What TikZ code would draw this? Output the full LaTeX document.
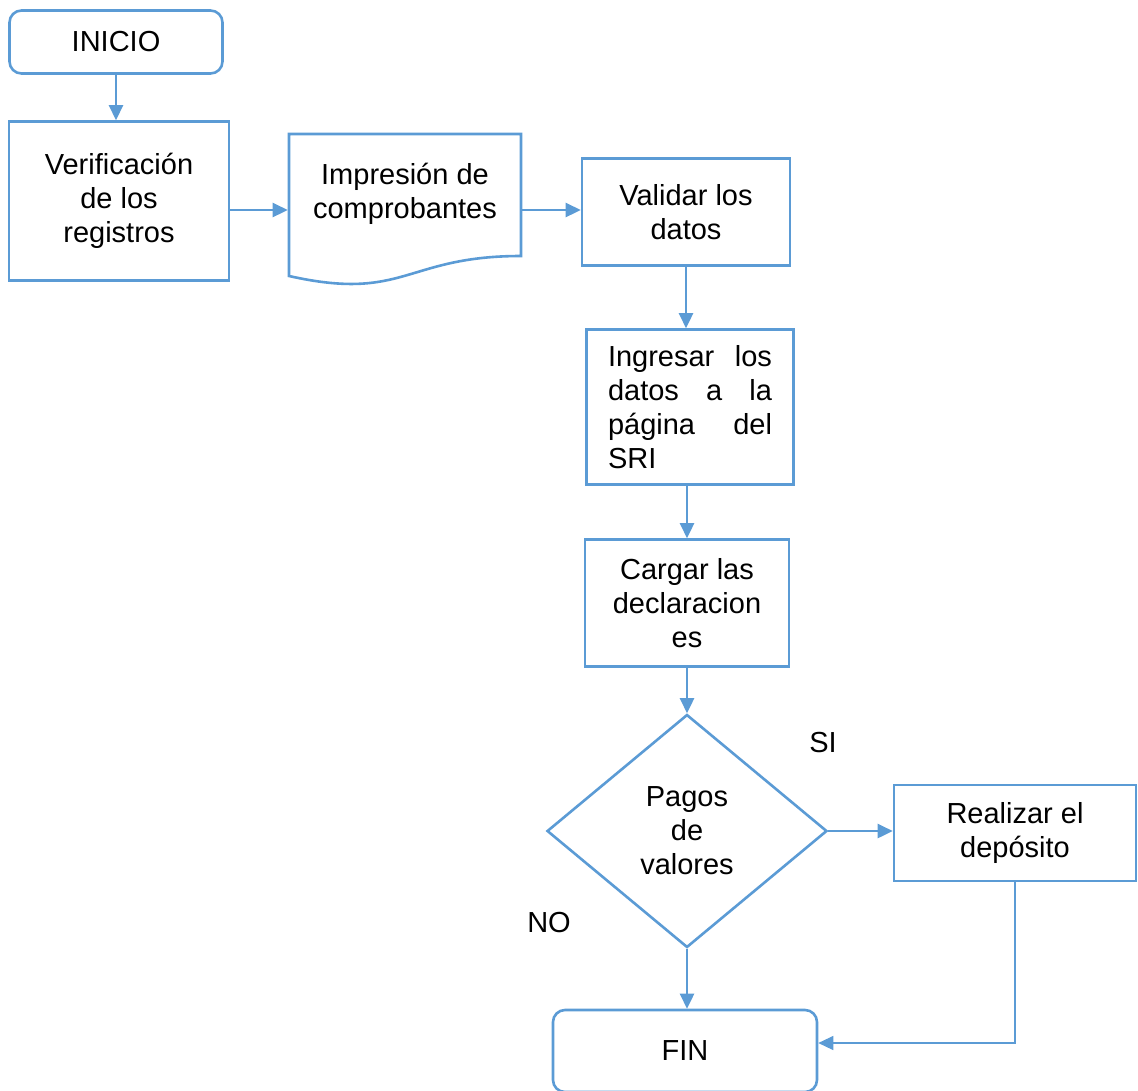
\documentclass[tikz,border=0pt]{standalone}
\usepackage{fontspec}
\setmainfont{Liberation Sans}
\usetikzlibrary{shapes.geometric,arrows.meta}
\definecolor{azul}{HTML}{5B9BD5}

\begin{document}
\begin{tikzpicture}[x=1pt, y=-1pt,
    every node/.style={font=\fontsize{29}{34}\selectfont, text=black, align=center},
    paso/.style={draw=azul, line width=2.6pt, rectangle},
    terminal/.style={paso, rounded corners=12pt},
    decision/.style={draw=azul, line width=2.6pt, diamond, inner sep=0pt},
    flecha/.style={draw=azul, line width=2.6pt, -{Triangle[length=15pt,width=14pt]}},
    ]
  \useasboundingbox (0,0) rectangle (1138,1090);
  \node[terminal, minimum width=213pt, minimum height=63pt] (inicio) at (116,42) {INICIO};
  \node[paso, minimum width=220pt, minimum height=159pt] (verif) at (119,201) {Verificación\\de los\\registros};
  \node[paso, draw=none, minimum width=232pt, minimum height=152pt] (doc) at (405,210) {};
  \draw[azul, line width=2.6pt] (289,134) -- (521,134) -- (521,256)
      .. controls (405,256) and (405,302) .. (289,276) -- cycle;
  \node (doctexto) at (405,194) {Impresión de\\comprobantes};
  \node[paso, minimum width=208pt, minimum height=107pt] (validar) at (686,212) {Validar los\\datos};
  \node[paso, minimum width=207pt, minimum height=155pt, text width=164pt, align=justify] (ingresar) at (690,407)
      {Ingresar los\linebreak datos a la\linebreak página del\linebreak SRI};
  \node[paso, minimum width=204pt, minimum height=127pt] (cargar) at (687,603) {Cargar las\\declaracion\\es};
  \node[decision, minimum width=280pt, minimum height=233pt] (pagos) at (687,831) {Pagos\\de\\valores};
  \node[paso, minimum width=242pt, minimum height=96pt] (deposito) at (1015,833) {Realizar el\\depósito};
  \node[terminal, minimum width=264pt, minimum height=82pt] (fin) at (685,1051) {FIN};
  \node (si) at (823,743) {SI};
  \node (no) at (549,923) {NO};

  \draw[flecha] (inicio.south) -- (inicio.south |- verif.north);
  \draw[flecha] (verif.east |- doc.west) -- (doc.west);
  \draw[flecha] (doc.east) -- (doc.east -| validar.west);
  \draw[flecha] (validar.south) -- (validar.south |- ingresar.north);
  \draw[flecha] (cargar.north |- ingresar.south) -- (cargar.north);
  \draw[flecha] (cargar.south) -- (pagos.north);
  \draw[flecha] (pagos.east) -- (pagos.east -| deposito.west);
  \draw[flecha] (pagos.south) -- (pagos.south |- fin.north);
  \draw[flecha, line width=1.2pt] (deposito.south) |- ([yshift=8pt]fin.east);
\end{tikzpicture}
\end{document}
